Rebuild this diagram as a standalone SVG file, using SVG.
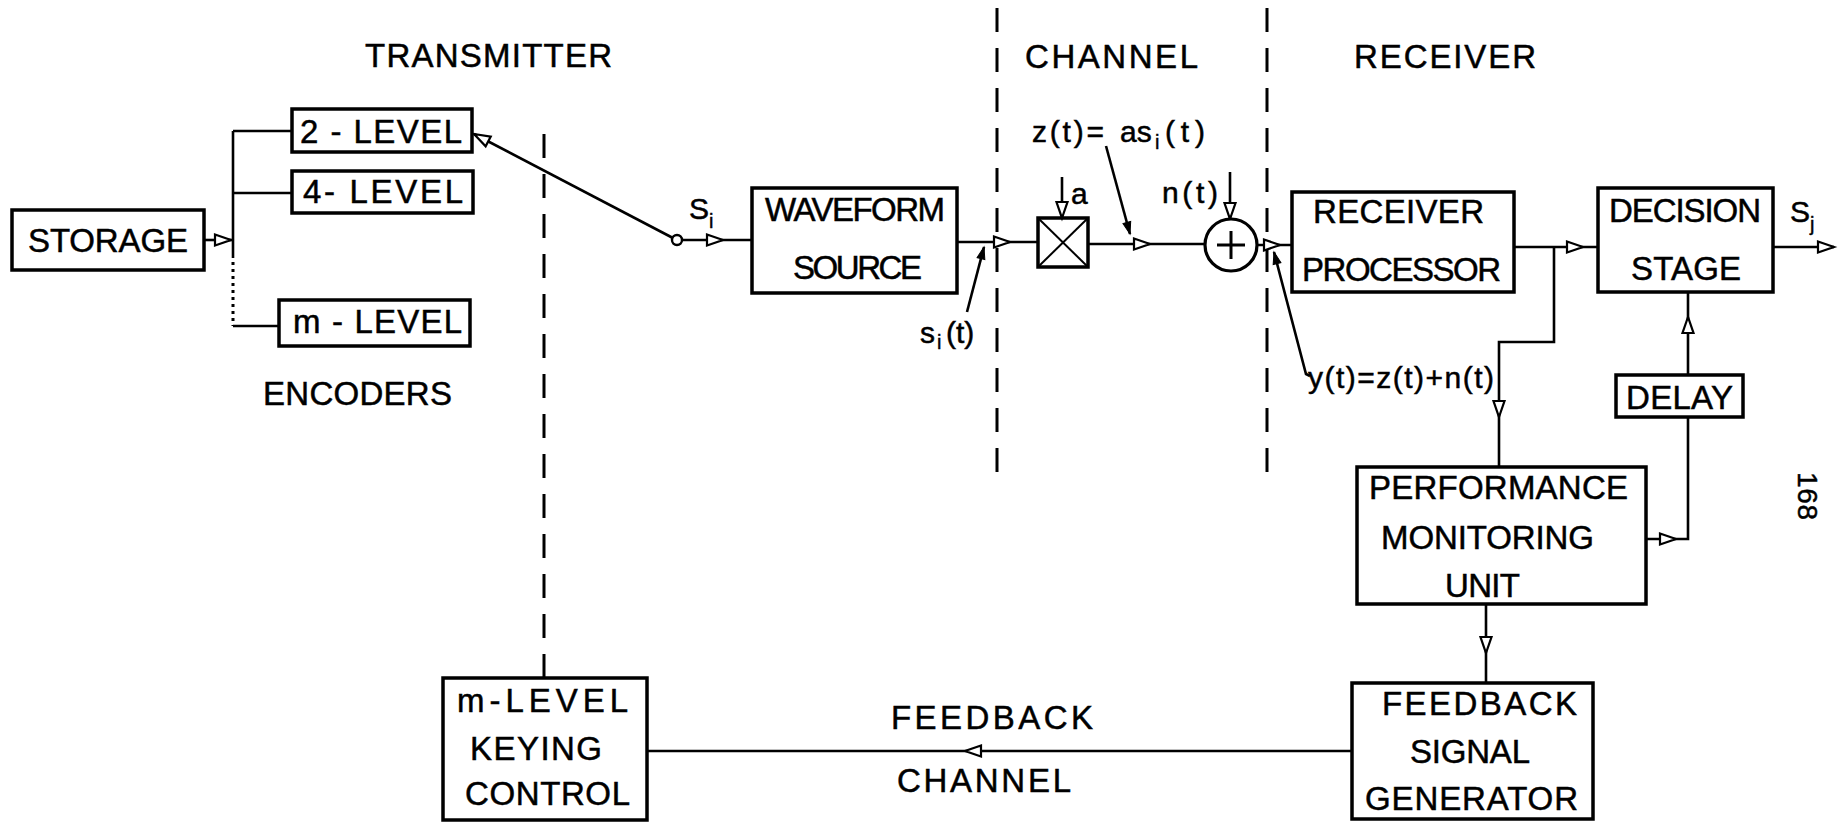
<svg xmlns="http://www.w3.org/2000/svg" xmlns:xlink="http://www.w3.org/1999/xlink" width="1846" height="822" viewBox="0 0 1846 822">
<style>
.bg{fill:#ffffff}
.box{fill:none;stroke:#000;stroke-width:3.5}
.ln{fill:none;stroke:#000;stroke-width:2.6}
.dash{fill:none;stroke:#000;stroke-width:3;stroke-dasharray:24 16}
.dot{fill:none;stroke:#000;stroke-width:3;stroke-dasharray:3 4}
.t{font-family:"Liberation Sans","DejaVu Sans",Arial,sans-serif;font-size:33px;fill:#000;stroke:#000;stroke-width:0.5}
.m{font-family:"Liberation Sans","DejaVu Sans",Arial,sans-serif;font-size:30px;fill:#000;stroke:#000;stroke-width:0.5}
.s{font-family:"Liberation Sans","DejaVu Sans",Arial,sans-serif;font-size:20px;fill:#000;stroke:#000;stroke-width:0.4}
</style>
<defs>
<path id="ah" d="M0,0 L-16,-5.5 L-16,5.5 Z" fill="#fff" stroke="#000" stroke-width="2.2" stroke-linejoin="miter"/>
<path id="lh" d="M0,0 L-12,-4 L-12,4 Z" fill="#000" stroke="#000" stroke-width="1"/>
</defs>
<rect class="bg" x="0" y="0" width="1846" height="822"/>

<g id="section-dividers">
<line class="dash" x1="544" y1="134" x2="544" y2="678"/>
<line class="dash" x1="997" y1="8" x2="997" y2="482"/>
<line class="dash" x1="1267" y1="8" x2="1267" y2="482"/>
</g>

<g id="section-labels">
<text class="t" x="365" y="67" textLength="247">TRANSMITTER</text>
<text class="t" x="1025" y="68" textLength="173">CHANNEL</text>
<text class="t" x="1354" y="68" textLength="182">RECEIVER</text>
<text class="t" x="263" y="405" textLength="189">ENCODERS</text>
</g>

<g id="connectors">
<line class="ln" x1="204" y1="240" x2="233" y2="240"/>
<use xlink:href="#ah" transform="translate(231,240)"/>
<line class="ln" x1="233" y1="131" x2="233" y2="258"/>
<line class="dot" x1="233" y1="262" x2="233" y2="326"/>
<polyline class="ln" points="233,131 292,131"/>
<polyline class="ln" points="233,193 292,193"/>
<polyline class="ln" points="233,326 279,326"/>
<line class="ln" x1="672" y1="237.5" x2="474" y2="134"/>
<use xlink:href="#ah" transform="translate(474,134) rotate(207.6)"/>
<line class="ln" x1="682" y1="240" x2="752" y2="240"/>
<use xlink:href="#ah" transform="translate(723,240)"/>
<line class="ln" x1="957" y1="242" x2="1038" y2="242"/>
<use xlink:href="#ah" transform="translate(1010,242)"/>
<line class="ln" x1="1088" y1="244" x2="1205" y2="244"/>
<use xlink:href="#ah" transform="translate(1150,244)"/>
<line class="ln" x1="1257" y1="245" x2="1292" y2="245"/>
<use xlink:href="#ah" transform="translate(1280,245)"/>
<line class="ln" x1="1514" y1="247" x2="1598" y2="247"/>
<use xlink:href="#ah" transform="translate(1583,247)"/>
<polyline class="ln" points="1554,247 1554,342 1499,342 1499,467"/>
<use xlink:href="#ah" transform="translate(1499,417) rotate(90)"/>
<line class="ln" x1="1773" y1="247" x2="1834" y2="247"/>
<use xlink:href="#ah" transform="translate(1834,247)"/>
<line class="ln" x1="1688" y1="375" x2="1688" y2="292"/>
<use xlink:href="#ah" transform="translate(1688,317) rotate(-90)"/>
<polyline class="ln" points="1646,539 1688,539 1688,417"/>
<use xlink:href="#ah" transform="translate(1676,539)"/>
<line class="ln" x1="1486" y1="604" x2="1486" y2="683"/>
<use xlink:href="#ah" transform="translate(1486,653) rotate(90)"/>
<line class="ln" x1="1352" y1="751" x2="647" y2="751"/>
<use xlink:href="#ah" transform="translate(965,751) rotate(180)"/>
<line class="ln" x1="1062" y1="177" x2="1062" y2="218"/>
<use xlink:href="#ah" transform="translate(1062,218) rotate(90)"/>
<line class="ln" x1="1230" y1="172" x2="1230" y2="219"/>
<use xlink:href="#ah" transform="translate(1230,219) rotate(90)"/>
<line class="ln" x1="1106" y1="146" x2="1130" y2="234"/>
<use xlink:href="#lh" transform="translate(1130,234) rotate(74.7)"/>
<line class="ln" x1="967" y1="312" x2="984" y2="247"/>
<use xlink:href="#lh" transform="translate(984,247) rotate(-75.3)"/>
<polyline class="ln" points="1310,376 1306,374 1274,252"/>
<use xlink:href="#lh" transform="translate(1274,252) rotate(-104.7)"/>
</g>

<g id="storage">
<rect class="box" x="12" y="210" width="192" height="60"/>
<text class="t" x="28" y="252" textLength="160">STORAGE</text>
</g>
<g id="enc2">
<rect class="box" x="292" y="109" width="180" height="43"/>
<text class="t" x="300" y="143" textLength="162">2 - LEVEL</text>
</g>
<g id="enc4">
<rect class="box" x="292" y="171" width="181" height="42"/>
<text class="t" x="303" y="203" textLength="160">4- LEVEL</text>
</g>
<g id="encm">
<rect class="box" x="279" y="300" width="191" height="46"/>
<text class="t" x="293" y="333" textLength="169">m - LEVEL</text>
</g>
<g id="switch">
<circle cx="677" cy="240" r="5" fill="#fff" stroke="#000" stroke-width="2.4"/>
<text class="m" x="689" y="219">S</text>
<text class="s" x="709" y="228">i</text>
</g>
<g id="waveform">
<rect class="box" x="752" y="188" width="205" height="105"/>
<text class="t" x="765" y="221" textLength="180">WAVEFORM</text>
<text class="t" x="793" y="279" textLength="129">SOURCE</text>
</g>
<g id="si-label">
<text class="m" x="920" y="343">s</text>
<text class="s" x="937" y="349">i</text>
<text class="m" x="946" y="343">(t)</text>
</g>
<g id="multiplier">
<rect class="box" x="1038" y="218" width="50" height="49"/>
<line class="ln" x1="1038" y1="218" x2="1088" y2="267" style="stroke-width:2"/>
<line class="ln" x1="1088" y1="218" x2="1038" y2="267" style="stroke-width:2"/>
<text class="m" x="1071" y="204">a</text>
</g>
<g id="z-label">
<text class="m" x="1032" y="142" textLength="72">z(t)=</text>
<text class="m" x="1120" y="142">as</text>
<text class="s" x="1155" y="149">i</text>
<text class="m" x="1165" y="142" textLength="40">(t)</text>
</g>
<g id="adder">
<circle cx="1231" cy="245" r="26" fill="#fff" stroke="#000" stroke-width="3.2"/>
<line class="ln" x1="1217" y1="245" x2="1245" y2="245" style="stroke-width:3"/>
<line class="ln" x1="1231" y1="231" x2="1231" y2="259" style="stroke-width:3"/>
<text class="m" x="1162" y="203" textLength="56">n(t)</text>
</g>
<g id="y-label">
<text class="m" x="1308" y="388" textLength="186">y(t)=z(t)+n(t)</text>
</g>
<g id="receiver-processor">
<rect class="box" x="1292" y="192" width="222" height="100"/>
<text class="t" x="1313" y="223" textLength="171">RECEIVER</text>
<text class="t" x="1302" y="281" textLength="199">PROCESSOR</text>
</g>
<g id="decision-stage">
<rect class="box" x="1598" y="188" width="175" height="104"/>
<text class="t" x="1609" y="222" textLength="152">DECISION</text>
<text class="t" x="1631" y="280" textLength="110">STAGE</text>
<text class="m" x="1790" y="222">S</text>
<text class="s" x="1810" y="231">j</text>
</g>
<g id="delay">
<rect class="box" x="1616" y="375" width="127" height="42"/>
<text class="t" x="1626" y="409" textLength="107">DELAY</text>
</g>
<g id="performance-monitoring-unit">
<rect class="box" x="1357" y="467" width="289" height="137"/>
<text class="t" x="1369" y="499" textLength="259">PERFORMANCE</text>
<text class="t" x="1381" y="549" textLength="213">MONITORING</text>
<text class="t" x="1445" y="597" textLength="75">UNIT</text>
</g>
<g id="feedback-signal-generator">
<rect class="box" x="1352" y="683" width="241" height="136"/>
<text class="t" x="1382" y="715" textLength="195">FEEDBACK</text>
<text class="t" x="1410" y="763" textLength="120">SIGNAL</text>
<text class="t" x="1365" y="810" textLength="213">GENERATOR</text>
</g>
<g id="keying-control">
<rect class="box" x="443" y="678" width="204" height="142"/>
<text class="t" x="457" y="712" textLength="171">m-LEVEL</text>
<text class="t" x="470" y="760" textLength="132">KEYING</text>
<text class="t" x="465" y="805" textLength="165">CONTROL</text>
</g>
<g id="feedback-channel-label">
<text class="t" x="891" y="729" textLength="202">FEEDBACK</text>
<text class="t" x="897" y="792" textLength="174">CHANNEL</text>
</g>
<g id="page-number">
<text class="m" x="0" y="0" transform="translate(1798,472) rotate(90)" style="font-size:28px" textLength="48">168</text>
</g>
</svg>
